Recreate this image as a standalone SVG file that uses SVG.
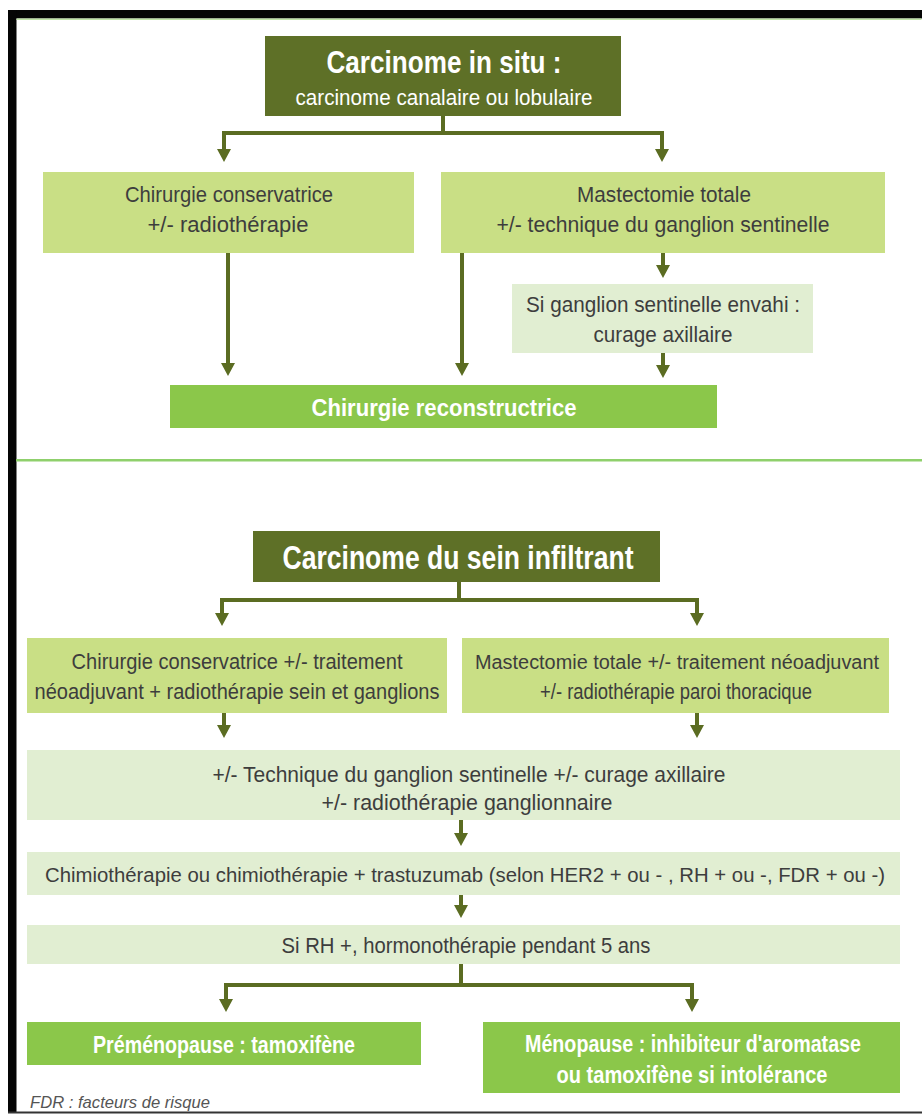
<svg xmlns="http://www.w3.org/2000/svg" width="922" height="1115" viewBox="0 0 922 1115">
<style>
.dark{fill:#5e7027}
.light{fill:#c9df85}
.pale{fill:#e1eed2}
.bright{fill:#8bc74a}
.t{font-family:"Liberation Sans",Arial,sans-serif;font-size:22.5px;fill:#3d3d3d;text-anchor:middle}
.s{font-size:20px}
.w{font-family:"Liberation Sans",Arial,sans-serif;font-weight:bold;fill:#ffffff;text-anchor:middle}
.ln{fill:none;stroke:#5b6c22;stroke-width:4}
.ah{fill:#5b6c22}
</style>
<rect width="922" height="1115" fill="#ffffff"/>
<g id="frame">
<rect x="8" y="10" width="914" height="8.5" fill="#050505"/>
<rect x="8" y="10" width="8.5" height="1103" fill="#050505"/>
<rect x="16.5" y="18.5" width="905" height="1.5" fill="#bfe3a6"/>
<rect x="8" y="1111.5" width="914" height="2" fill="#333333"/>
<rect x="16" y="459" width="906" height="2.5" fill="#8fd06c"/>
</g>
<g id="connectors">
<path class="ln" d="M443,116 V133 M224,133 H662 M224,131 V150 M662,131 V150"/>
<path class="ah" d="M217,149 H231 L224,162 Z M655,149 H669 L662,162 Z"/>
<path class="ln" d="M228,253 V364 M462,253 V364 M663,253 V266 M663,353 V366"/>
<path class="ah" d="M221,363 H235 L228,376 Z M455,363 H469 L462,376 Z M656,265 H670 L663,278 Z M656,365 H670 L663,378 Z"/>
<path class="ln" d="M459,582 V600 M222,600 H697 M222,598 V614 M697,598 V614"/>
<path class="ah" d="M215,613 H229 L222,626 Z M690,613 H704 L697,626 Z"/>
<path class="ln" d="M224,713 V726 M697,713 V726"/>
<path class="ah" d="M217,725 H231 L224,738 Z M690,725 H704 L697,738 Z"/>
<path class="ln" d="M461,820 V834"/>
<path class="ah" d="M454,833 H468 L461,846 Z"/>
<path class="ln" d="M461,895 V906"/>
<path class="ah" d="M454,905 H468 L461,918 Z"/>
<path class="ln" d="M461,964 V985 M226,985 H692 M226,983 V1000 M692,983 V1000"/>
<path class="ah" d="M219,999 H233 L226,1012 Z M685,999 H699 L692,1012 Z"/>
</g>
<g id="insitu">
<rect class="dark" x="265" y="36" width="356" height="80"/>
<text class="w" x="444" y="73" font-size="32" textLength="235" lengthAdjust="spacingAndGlyphs">Carcinome in situ :</text>
<text class="w" x="444" y="105" font-size="22" textLength="297" lengthAdjust="spacingAndGlyphs" style="font-weight:normal">carcinome canalaire ou lobulaire</text>
</g>
<g id="chir-cons-1">
<rect class="light" x="43" y="172" width="371" height="81"/>
<text class="t" x="229" y="202" textLength="208" lengthAdjust="spacingAndGlyphs">Chirurgie conservatrice</text>
<text class="t" x="228" y="232" textLength="161" lengthAdjust="spacingAndGlyphs">+/- radiothérapie</text>
</g>
<g id="mastecto-1">
<rect class="light" x="441" y="172" width="444" height="81"/>
<text class="t" x="664" y="202" textLength="174" lengthAdjust="spacingAndGlyphs">Mastectomie totale</text>
<text class="t" x="663" y="232" textLength="333" lengthAdjust="spacingAndGlyphs">+/- technique du ganglion sentinelle</text>
</g>
<g id="ganglion">
<rect class="pale" x="512" y="284" width="301" height="69"/>
<text class="t" x="663" y="312" textLength="274" lengthAdjust="spacingAndGlyphs">Si ganglion sentinelle envahi :</text>
<text class="t" x="663" y="342" textLength="139" lengthAdjust="spacingAndGlyphs">curage axillaire</text>
</g>
<g id="reconstruct">
<rect class="bright" x="170" y="385" width="547" height="43"/>
<text class="w" x="444" y="416" font-size="24" textLength="265" lengthAdjust="spacingAndGlyphs">Chirurgie reconstructrice</text>
</g>
<g id="infiltrant">
<rect class="dark" x="253" y="531" width="407" height="51"/>
<text class="w" x="458" y="569" font-size="33" textLength="351" lengthAdjust="spacingAndGlyphs">Carcinome du sein infiltrant</text>
</g>
<g id="chir-cons-2">
<rect class="light" x="27" y="638" width="420" height="75"/>
<text class="t" x="237" y="669" textLength="331" lengthAdjust="spacingAndGlyphs">Chirurgie conservatrice +/- traitement</text>
<text class="t" x="237" y="699" textLength="405" lengthAdjust="spacingAndGlyphs">néoadjuvant + radiothérapie sein et ganglions</text>
</g>
<g id="mastecto-2">
<rect class="light" x="462" y="638" width="427" height="75"/>
<text class="t s" x="677" y="669" textLength="404" lengthAdjust="spacingAndGlyphs">Mastectomie totale +/- traitement néoadjuvant</text>
<text class="t" x="676" y="699" textLength="272" lengthAdjust="spacingAndGlyphs">+/- radiothérapie paroi thoracique</text>
</g>
<g id="technique">
<rect class="pale" x="27" y="750" width="873" height="70"/>
<text class="t" x="469" y="782" textLength="513" lengthAdjust="spacingAndGlyphs">+/- Technique du ganglion sentinelle +/- curage axillaire</text>
<text class="t" x="467" y="810" textLength="291" lengthAdjust="spacingAndGlyphs">+/- radiothérapie ganglionnaire</text>
</g>
<g id="chimio">
<rect class="pale" x="27" y="852" width="873" height="43"/>
<text class="t s" x="465" y="882" textLength="840" lengthAdjust="spacingAndGlyphs">Chimiothérapie ou chimiothérapie + trastuzumab (selon HER2 + ou - , RH + ou -, FDR + ou -)</text>
</g>
<g id="hormono">
<rect class="pale" x="27" y="925" width="873" height="39"/>
<text class="t" x="466" y="953" textLength="369" lengthAdjust="spacingAndGlyphs">Si RH +, hormonothérapie pendant 5 ans</text>
</g>
<g id="premeno">
<rect class="bright" x="27" y="1022" width="394" height="43"/>
<text class="w" x="224" y="1053" font-size="23" textLength="262" lengthAdjust="spacingAndGlyphs">Préménopause : tamoxifène</text>
</g>
<g id="meno">
<rect class="bright" x="483" y="1022" width="417" height="71"/>
<text class="w" x="693" y="1052" font-size="23" textLength="336" lengthAdjust="spacingAndGlyphs">Ménopause : inhibiteur d'aromatase</text>
<text class="w" x="692" y="1083" font-size="23" textLength="271" lengthAdjust="spacingAndGlyphs">ou tamoxifène si intolérance</text>
</g>
<text x="30" y="1108" font-family="Liberation Sans,Arial,sans-serif" font-size="17" font-style="italic" fill="#555555" textLength="180" lengthAdjust="spacingAndGlyphs">FDR : facteurs de risque</text>
</svg>
